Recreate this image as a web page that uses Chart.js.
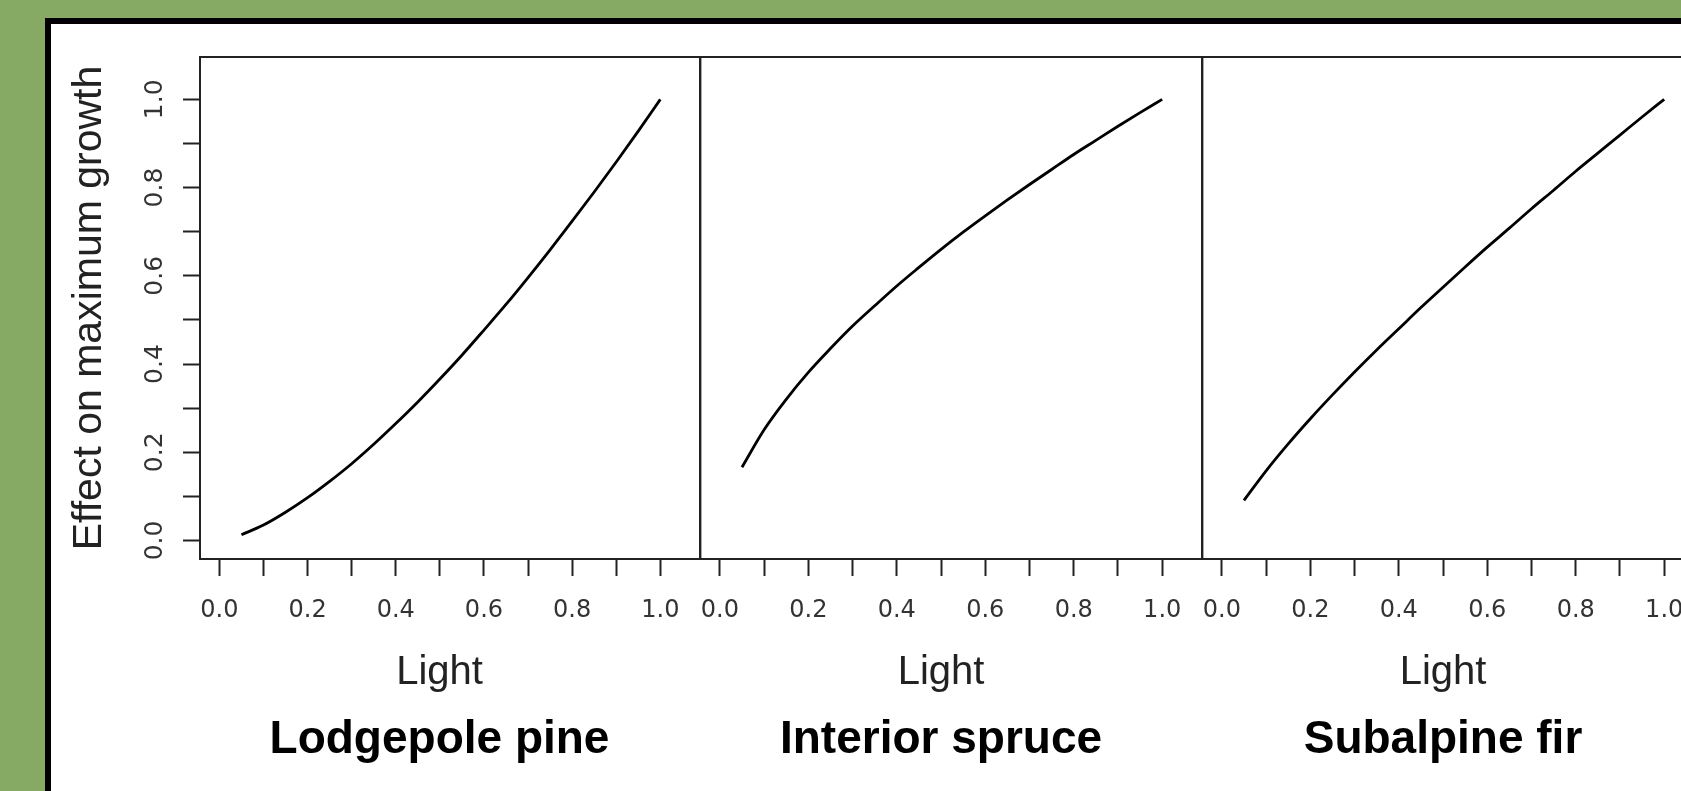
<!DOCTYPE html>
<html>
<head>
<meta charset="utf-8">
<script src="https://cdn.jsdelivr.net/npm/chart.js@4.4.1/dist/chart.umd.min.js"></script>
<style>
html, body { margin: 0; padding: 0; width: 1681px; height: 791px; overflow: hidden; background: #86a964; }
#frame { position: absolute; left: 45px; top: 18px; width: 1700px; height: 800px; background: #000; }
#paper { position: absolute; left: 51px; top: 24px; width: 1700px; height: 800px; background: #fff; }
canvas { position: absolute; top: 0; }
</style>
</head>
<body>
<div id="frame"></div>
<div id="paper"></div>
<canvas id="c1" width="700" height="791" style="left:0px"></canvas>
<canvas id="c2" width="522" height="791" style="left:680px"></canvas>
<canvas id="c3" width="522" height="791" style="left:1182px"></canvas>
<script>
// light levels (x) and growth effect
const light = [0.05, 0.10, 0.15, 0.20, 0.25, 0.30, 0.35, 0.40, 0.45, 0.50,
               0.55, 0.60, 0.65, 0.70, 0.75, 0.80, 0.85, 0.90, 0.95, 1.00];
const lodgepole = [0.013, 0.035, 0.064, 0.097, 0.134, 0.174, 0.218, 0.265, 0.314, 0.366,
                   0.420, 0.477, 0.535, 0.596, 0.659, 0.724, 0.790, 0.858, 0.928, 1.000];
const spruce = [0.166, 0.251, 0.320, 0.381, 0.435, 0.486, 0.532, 0.577, 0.619, 0.660,
                0.699, 0.736, 0.772, 0.807, 0.841, 0.875, 0.907, 0.939, 0.970, 1.000];
const fir = [0.091, 0.158, 0.219, 0.276, 0.330, 0.382, 0.432, 0.480, 0.528, 0.574,
             0.620, 0.665, 0.708, 0.752, 0.794, 0.837, 0.878, 0.919, 0.960, 1.000];
const species = ['Lodgepole pine', 'Interior spruce', 'Subalpine fir'];
const tickLabels = ['0.0', '0.2', '0.4', '0.6', '0.8', '1.0'];
const tickValues = [0.0, 0.2, 0.4, 0.6, 0.8, 1.0];

Chart.defaults.font.family = 'Liberation Sans, Arial, sans-serif';

// box round each panel
const panelFrame = {
    id: 'panelFrame',
    afterDatasetsDraw(chart) {
        const { ctx, chartArea: a } = chart;
        ctx.save();
        ctx.strokeStyle = '#222';
        ctx.lineWidth = 2;
        ctx.strokeRect(a.left, a.top, a.right - a.left, a.bottom - a.top);
        ctx.restore();
    }
};

// y tick labels standing on their side, like the original
const sideLabels = {
    id: 'sideLabels',
    afterDraw(chart) {
        const ctx = chart.ctx;
        const y = chart.scales.y;
        ctx.save();
        ctx.fillStyle = '#333';
        ctx.font = '25px "DejaVu Sans"';
        ctx.textAlign = 'center';
        ctx.textBaseline = 'middle';
        tickValues.forEach((v, i) => {
            ctx.save();
            ctx.translate(155, y.getPixelForValue(v));
            ctx.rotate(-Math.PI / 2);
            ctx.fillText(tickLabels[i], 0, 0);
            ctx.restore();
        });
        ctx.restore();
    }
};

function tickText(v) {
    const k = Math.round(v * 10);
    return k % 2 === 0 ? tickLabels[k / 2] : '';
}

function makePanel(id, series, name, first) {
    return new Chart(document.getElementById(id), {
        type: 'line',
        data: {
            datasets: [{
                data: light.map((x, i) => ({ x: x, y: series[i] })),
                borderColor: '#000',
                borderWidth: 2.8,
                pointRadius: 0,
                cubicInterpolationMode: 'monotone',
                fill: false
            }]
        },
        options: {
            responsive: false,
            animation: false,
            layout: { padding: { left: first ? 179 : 0, top: 57, right: 0, bottom: 0 }, autoPadding: false },
            plugins: {
                legend: { display: false },
                tooltip: { enabled: false },
                subtitle: {
                    display: true,
                    text: 'Light',
                    position: 'bottom',
                    color: '#222',
                    font: { size: 40, weight: 'normal' },
                    padding: { top: 0, bottom: 15 }
                },
                title: {
                    display: true,
                    text: name,
                    position: 'bottom',
                    color: '#000',
                    font: { size: 46, weight: 'bold' },
                    padding: { top: 0, bottom: 23.4 }
                }
            },
            scales: {
                x: {
                    type: 'linear',
                    position: 'bottom',
                    min: -0.044,
                    max: 1.09,
                    border: { display: false },
                    grid: { drawOnChartArea: false, drawTicks: true, tickLength: 17, tickColor: '#222', tickWidth: 2 },
                    ticks: {
                        stepSize: 0.1, includeBounds: false, autoSkip: false, maxRotation: 0,
                        padding: 20, color: '#333',
                        font: { family: 'DejaVu Sans', size: 24 },
                        callback: tickText
                    },
                    afterFit: s => { s.height = 90.4; }
                },
                y: {
                    type: 'linear',
                    position: 'left',
                    min: -0.042,
                    max: 1.096,
                    border: { display: false },
                    grid: { display: first, drawOnChartArea: false, drawTicks: true, tickLength: 17, tickColor: '#222', tickWidth: 2 },
                    ticks: { display: false, stepSize: 0.1, includeBounds: false, autoSkip: false },
                    title: {
                        display: first,
                        text: 'Effect on maximum growth',
                        color: '#222',
                        font: { size: 41 },
                        padding: { top: -113.6, bottom: 0 }
                    },
                    afterFit: s => { s.width = first ? 21 : 20; }
                }
            }
        },
        plugins: first ? [panelFrame, sideLabels] : [panelFrame]
    });
}

makePanel('c1', lodgepole, species[0], true);
makePanel('c2', spruce, species[1], false);
makePanel('c3', fir, species[2], false);
</script>
</body>
</html>
